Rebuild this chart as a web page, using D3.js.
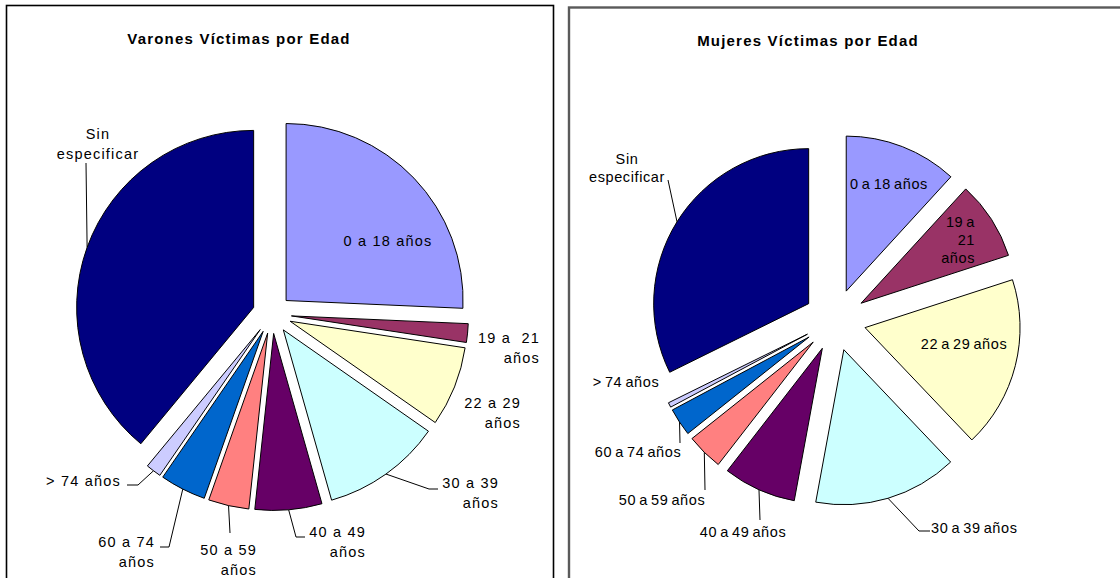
<!DOCTYPE html>
<html>
<head>
<meta charset="utf-8">
<script src="https://cdn.jsdelivr.net/npm/d3@7"></script>
<style>
  body { margin: 0; background: #fff; }
  svg { display: block; font-family: "Liberation Sans", Arial, sans-serif; }
  text { white-space: pre; }
</style>
</head>
<body>
<div id="chart"></div>
<script>
/* DATA */
var categories = ["0 a 18 años", "19 a  21 años", "22 a 29 años", "30 a 39 años", "40 a 49 años",
                  "50 a 59 años", "60 a 74 años", "> 74 años", "Sin especificar"];
var varones = [25.7, 1.7, 7.3, 10.9, 6.1, 3.7, 4.2, 1.4, 39.0];
var mujeres = [11.8, 8.2, 17.9, 15.0, 7.6, 3.8, 2.9, 0.5, 32.3];
var colors = ["#9999FF", "#993366", "#FFFFCC", "#CCFFFF", "#660066", "#FF8080", "#0066CC", "#CCCCFF", "#000080"];

// label text lines as wrapped in each chart
var linesVarones = [["0 a 18 años"], ["19 a  21", "años"], ["22 a 29", "años"], ["30 a 39", "años"],
                    ["40 a 49", "años"], ["50 a 59", "años"], ["60 a 74", "años"], ["> 74 años"], ["Sin", "especificar"]];
var linesMujeres = [["0 a 18 años"], ["19 a", "21", "años"], ["22 a 29 años"], ["30 a 39 años"],
                    ["40 a 49 años"], ["50 a 59 años"], ["60 a 74 años"], ["> 74 años"], ["Sin", "especificar"]];

/* LAYOUT */
var width = 1120, height = 578;

var svg = d3.select("#chart").append("svg")
  .attr("width", width)
  .attr("height", height);

// panel frames
svg.append("rect").attr("x", 6.5).attr("y", 5.5).attr("width", 547).attr("height", 620)
  .attr("fill", "none").attr("stroke", "#000").attr("stroke-width", 1.6);
svg.append("rect").attr("x", 569).attr("y", 7.5).attr("width", 620).attr("height", 620)
  .attr("fill", "none").attr("stroke", "#5a5a5a").attr("stroke-width", 2.4);

// label placement: [x, first baseline, anchor], leader: list of points after the arc point (or null)
var layoutVarones = {
  cx: 272, cy: 314, r: 177, explode: 19.5, title: "Varones Víctimas por Edad", tx: 239, ty: 44,
  fs: 14.5, ls: 1.2, ws: 0, lh: 20,
  labels: [[388, 246, "middle"], [540, 343, "end"], [521, 408, "end"], [499, 488, "end"], [366, 537, "end"],
           [257, 555, "end"], [155, 547, "end"], [121, 486, "end"], [98, 139, "middle"]],
  leaders: [null, null, null, [[429, 489], [438, 489]], [[296, 537], [305, 537]], [[230, 533]],
            [[169, 547], [160, 547]], [[138, 485], [127, 485]], [[86, 163]]]
};
var layoutMujeres = {
  cx: 835, cy: 320, r: 155, explode: 31, title: "Mujeres Víctimas por Edad", tx: 808, ty: 46,
  fs: 14.5, ls: 0.6, ws: -1.5, lh: 18,
  labels: [[889, 189, "middle"], [975, 227, "end"], [964, 349, "middle"], [931, 533, "start"], [743, 537, "middle"],
           [662, 505, "middle"], [638, 457, "middle"], [626, 387, "middle"], [627, 164, "middle"]],
  leaders: [null, null, null, [[919, 531], [930, 531]], [[760, 520]], [[705, 490]], [[680, 443]], null, [[668, 180]]]
};

function drawPie(values, lines, L) {
  var pie = d3.pie().sort(null).value(function(d) { return d; });
  var arc = d3.arc().innerRadius(0).outerRadius(L.r);
  var arcs = pie(values);
  var g = svg.append("g");

  g.append("text")
    .attr("x", L.tx).attr("y", L.ty)
    .attr("text-anchor", "middle")
    .style("font-size", "15px").style("font-weight", "bold")
    .style("letter-spacing", "1.2px")
    .text(L.title);

  // exploded slices
  g.selectAll("path.slice")
    .data(arcs)
    .enter()
    .append("path")
    .attr("class", "slice")
    .attr("d", arc)
    .attr("transform", function(d) {
      var a = (d.startAngle + d.endAngle) / 2;
      return "translate(" + (L.cx + Math.sin(a) * L.explode) + "," + (L.cy - Math.cos(a) * L.explode) + ")";
    })
    .attr("fill", function(d, i) { return colors[i]; })
    .attr("stroke", "#000")
    .attr("stroke-width", 1);

  // leader lines, starting at the middle of each slice's outer arc
  var line = d3.line();
  g.selectAll("path.leader")
    .data(arcs.filter(function(d, i) { return L.leaders[i]; }))
    .enter()
    .append("path")
    .attr("class", "leader")
    .attr("d", function(d) {
      var a = (d.startAngle + d.endAngle) / 2;
      var p0 = [L.cx + Math.sin(a) * (L.explode + L.r), L.cy - Math.cos(a) * (L.explode + L.r)];
      return line([p0].concat(L.leaders[d.index]));
    })
    .attr("fill", "none")
    .attr("stroke", "#000")
    .attr("stroke-width", 1);

  // labels
  var lab = g.selectAll("text.lab")
    .data(arcs)
    .enter()
    .append("text")
    .attr("class", "lab")
    .attr("text-anchor", function(d, i) { return L.labels[i][2]; })
    .style("font-size", L.fs + "px")
    .style("letter-spacing", L.ls + "px")
    .style("word-spacing", L.ws + "px")
    .attr("fill", "#000");

  lab.selectAll("tspan")
    .data(function(d, i) { return lines[i].map(function(t) { return { t: t, i: i }; }); })
    .enter()
    .append("tspan")
    .attr("x", function(d) { return L.labels[d.i][0]; })
    .attr("y", function(d, j) { return L.labels[d.i][1] + j * L.lh; })
    .text(function(d) { return d.t; });
}

drawPie(varones, linesVarones, layoutVarones);
drawPie(mujeres, linesMujeres, layoutMujeres);
</script>
</body>
</html>
